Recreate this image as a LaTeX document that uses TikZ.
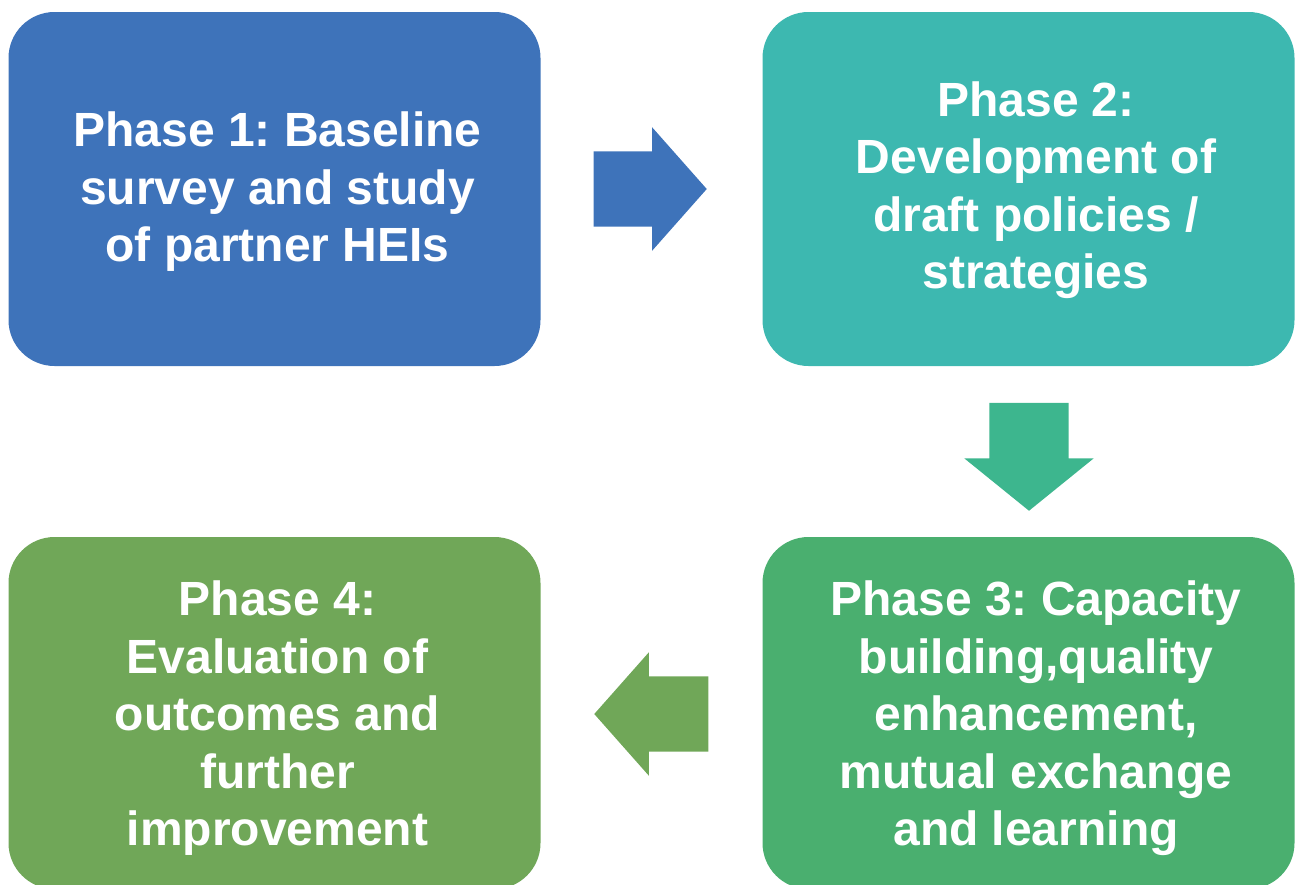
\documentclass[tikz,border=0pt]{standalone}
\usepackage{fontspec}
\setmainfont{Liberation Sans}
\frenchspacing
\usepackage{tikz}
\usetikzlibrary{shapes.arrows}
\definecolor{phaseblue}{RGB}{62,115,186}
\definecolor{phaseteal}{RGB}{61,184,176}
\definecolor{arrowteal}{RGB}{61,182,142}
\definecolor{phasegreen}{RGB}{74,175,111}
\definecolor{phaseolive}{RGB}{112,167,88}
\tikzset{
	phase/.style    = {rectangle, rounded corners=46pt, inner sep=0pt,
		minimum width=532pt},
	phasetext/.style = {text=white, align=center, inner sep=0pt,
		font=\fontsize{48}{57.5}\selectfont\bfseries},
	flow/.style     = {single arrow, anchor=tip, inner xsep=0pt, inner ysep=37.5pt,
		single arrow head extend=24pt, single arrow tip angle=97}
}

\begin{document}
\begin{tikzpicture}[x=1pt, y=-1pt]
\useasboundingbox (0,0) rectangle (1295,884);
\draw
% the four phases
node at (274.5,189)[phase, fill=phaseblue, minimum height=354pt,
	label={[phasetext, xshift=3pt, yshift=-3pt]center:{Phase 1: Baseline\\survey and study\\of partner HEIs}}] (p1) {}
node at (1028.5,189)[phase, fill=phaseteal, minimum height=354pt,
	label={[phasetext, xshift=7.5pt, yshift=-1pt]center:{Phase 2:\\Development of\\draft policies /\\strategies}}] (p2) {}
node at (1028.5,713)[phase, fill=phasegreen, minimum height=352pt,
	label={[phasetext, xshift=7.5pt, yshift=-5.5pt]center:{Phase 3: Capacity\\building,quality\\enhancement,\\mutual exchange\\and learning}}] (p3) {}
node at (274.5,713)[phase, fill=phaseolive, minimum height=352pt,
	label={[phasetext, xshift=3pt, yshift=-5.5pt]center:{Phase 4:\\Evaluation of\\outcomes and\\further\\improvement}}] (p4) {};

% block arrows between the phases (placed by their tips)
\draw
node at (707,189)[flow, fill=phaseblue, minimum height=113pt] (a12) {}
node at (1029,511)[flow, fill=arrowteal, minimum height=108pt,
	inner xsep=39.5pt, inner ysep=0pt, single arrow head extend=25pt,
	single arrow tip angle=102, shape border rotate=270] (a23) {}
node at (594,714)[flow, fill=phaseolive, minimum height=114pt,
	shape border rotate=180] (a34) {};
\end{tikzpicture}
\end{document}
